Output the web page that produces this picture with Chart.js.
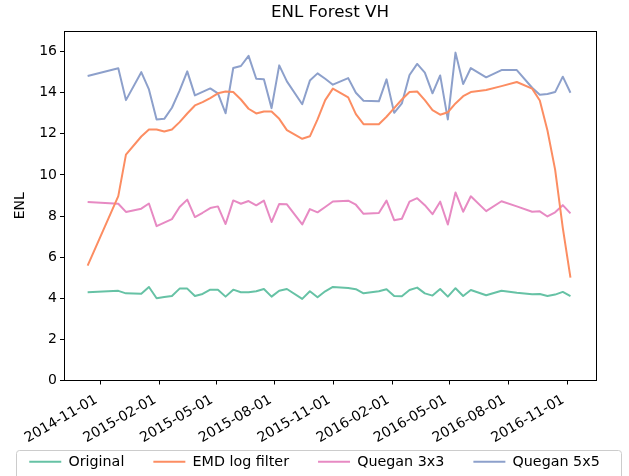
<!DOCTYPE html>
<html>
<head>
<meta charset="utf-8">
<script src="https://cdn.jsdelivr.net/npm/chart.js@4.4.1/dist/chart.umd.min.js"></script>
<style>
  body { margin: 0; background: #fff; }
</style>
</head>
<body>
<canvas id="enlChart" width="629" height="476"></canvas>
<script>
// acquisition dates (Sentinel-1, 12/24 day revisit)
const dates = [
    '2014-10-12', '2014-11-29', '2014-12-11', '2015-01-04', '2015-01-16', '2015-01-28',
    '2015-02-09', '2015-02-21', '2015-03-05', '2015-03-17', '2015-03-29', '2015-04-10',
    '2015-04-22', '2015-05-04', '2015-05-16', '2015-05-28', '2015-06-09', '2015-06-21',
    '2015-07-03', '2015-07-15', '2015-07-27', '2015-08-08', '2015-08-20', '2015-09-13',
    '2015-09-25', '2015-10-07', '2015-10-19', '2015-10-31', '2015-11-24', '2015-12-06',
    '2015-12-18', '2016-01-11', '2016-01-23', '2016-02-04', '2016-02-16', '2016-02-28',
    '2016-03-11', '2016-03-23', '2016-04-04', '2016-04-16', '2016-04-28', '2016-05-10',
    '2016-05-22', '2016-06-03', '2016-06-27', '2016-07-21', '2016-08-14', '2016-09-07',
    '2016-09-19', '2016-10-01', '2016-10-13', '2016-10-25', '2016-11-06'
];

const original = [
    4.29, 4.36, 4.24, 4.22, 4.55, 4.00, 4.06, 4.11, 4.47, 4.47, 4.11, 4.21,
    4.42, 4.42, 4.08, 4.42, 4.29, 4.29, 4.34, 4.45, 4.08, 4.37, 4.45, 3.97,
    4.34, 4.05, 4.34, 4.55, 4.50, 4.44, 4.24, 4.34, 4.44, 4.11, 4.10, 4.40,
    4.52, 4.24, 4.13, 4.45, 4.08, 4.49, 4.11, 4.40, 4.15, 4.37, 4.27, 4.20,
    4.21, 4.11, 4.18, 4.31, 4.11
];

const emdLog = [
    5.59, 8.97, 10.99, 11.87, 12.21, 12.21, 12.11, 12.21, 12.57, 12.99, 13.38, 13.54,
    13.74, 13.97, 14.06, 14.03, 13.67, 13.22, 12.99, 13.09, 13.09, 12.73, 12.18, 11.76,
    11.88, 12.70, 13.64, 14.20, 13.77, 12.96, 12.47, 12.47, 12.83, 13.25, 13.67, 14.03,
    14.06, 13.64, 13.15, 12.93, 13.05, 13.48, 13.83, 14.03, 14.13, 14.32, 14.52, 14.20,
    13.62, 12.16, 10.26, 7.43, 5.00
];

const quegan3 = [
    8.68, 8.60, 8.20, 8.36, 8.61, 7.51, 7.68, 7.85, 8.44, 8.80, 7.95, 8.16,
    8.39, 8.47, 7.61, 8.76, 8.60, 8.73, 8.52, 8.75, 7.71, 8.59, 8.57, 7.59,
    8.34, 8.18, 8.44, 8.71, 8.75, 8.55, 8.11, 8.15, 8.75, 7.80, 7.87, 8.70,
    8.87, 8.53, 8.09, 8.70, 7.59, 9.15, 8.21, 8.96, 8.24, 8.72, 8.47, 8.21,
    8.23, 7.98, 8.18, 8.53, 8.13
];

const quegan5 = [
    14.81, 15.19, 13.64, 15.00, 14.16, 12.70, 12.73, 13.27, 14.10, 15.04, 13.87, 14.04,
    14.21, 13.97, 13.00, 15.20, 15.30, 15.79, 14.68, 14.65, 13.25, 15.33, 14.55, 13.44,
    14.59, 14.94, 14.68, 14.39, 14.71, 14.00, 13.61, 13.58, 14.65, 13.02, 13.48, 14.86,
    15.40, 14.98, 13.97, 14.84, 12.70, 15.95, 14.42, 15.20, 14.75, 15.10, 15.10, 14.24,
    13.90, 13.94, 14.03, 14.78, 14.00
];

const xTickLabels = [
    '2014-11-01', '2015-02-01', '2015-05-01', '2015-08-01', '2015-11-01',
    '2016-02-01', '2016-05-01', '2016-08-01', '2016-11-01'
];
const yTicks = [0, 2, 4, 6, 8, 10, 12, 14, 16];
const xStart = '2014-09-05';
const xEnd = '2016-12-16';

const toTime = d => Date.parse(d);
const points = values => values.map((v, i) => ({ x: toTime(dates[i]), y: v }));

Chart.defaults.font.family = "'DejaVu Sans', sans-serif";
Chart.defaults.color = '#000';

function line(label, values, color) {
    return {
        label: label,
        data: points(values),
        borderColor: color,
        backgroundColor: color,
        borderWidth: 2,
        pointRadius: 0,
        tension: 0,
        borderJoinStyle: 'round'
    };
}

// black box around the axes and a light frame around the legend
const frames = {
    id: 'frames',
    afterDraw(chart) {
        const { ctx, chartArea: a, legend } = chart;
        ctx.save();
        ctx.strokeStyle = '#000';
        ctx.lineWidth = 1;
        ctx.strokeRect(Math.round(a.left) + 0.5, Math.round(a.top) + 0.5,
            Math.round(a.right - a.left), Math.round(a.bottom - a.top));
        const hb = legend.legendHitBoxes;
        if (hb && hb.length) {
            const last = hb[hb.length - 1];
            const l = hb[0].left - 13, r = last.left + last.width + 22;
            const t = hb[0].top - 5, b = hb[0].top + 25;
            ctx.strokeStyle = '#cccccc';
            ctx.beginPath();
            ctx.roundRect(Math.round(l) + 0.5, Math.round(t) + 0.5, Math.round(r - l), Math.round(b - t), 3);
            ctx.stroke();
        }
        ctx.restore();
    }
};

const ctx = document.getElementById('enlChart');
const enlChart = new Chart(ctx, {
    type: 'line',
    data: {
        datasets: [
            line('Original', original, '#66c2a5'),
            line('EMD log filter', emdLog, '#fc8d62'),
            line('Quegan 3x3', quegan3, '#e78ac3'),
            line('Quegan 5x5', quegan5, '#8da0cb')
        ]
    },
    plugins: [frames],
    options: {
        responsive: false,
        animation: false,
        layout: { padding: { left: 0, right: 0, top: 0, bottom: -3 } },
        plugins: {
            title: {
                display: true,
                text: 'ENL Forest VH',
                fullSize: false,
                font: { size: 16.7, weight: 'normal' },
                padding: { top: 3, bottom: 8 }
            },
            legend: {
                position: 'bottom',
                labels: {
                    usePointStyle: true,
                    pointStyle: 'line',
                    pointStyleWidth: 32,
                    padding: 29,
                    font: { size: 14.3 }
                }
            },
            tooltip: { enabled: false }
        },
        scales: {
            x: {
                type: 'linear',
                min: toTime(xStart),
                max: toTime(xEnd),
                afterBuildTicks: s => { s.ticks = xTickLabels.map(d => ({ value: toTime(d) })); },
                afterFit: s => {
                    s.height = 45.2;
                    // the rotated labels run down past the axis box, so don't clip them
                    s._computeLabelArea = () => undefined;
                },
                grid: { drawOnChartArea: false, color: '#000', tickLength: 4 },
                border: { display: false },
                ticks: {
                    autoSkip: false,
                    minRotation: 30,
                    maxRotation: 30,
                    padding: 7,
                    labelOffset: -4,
                    font: { size: 14 },
                    callback: (v, i) => xTickLabels[i]
                }
            },
            y: {
                min: 0,
                max: 17,
                afterBuildTicks: s => { s.ticks = yTicks.map(v => ({ value: v })); },
                afterFit: s => { s.width = 64; },
                grid: { drawOnChartArea: false, color: '#000', tickLength: 4 },
                border: { display: false },
                title: { display: true, text: 'ENL', font: { size: 14 }, padding: { top: 12, bottom: 4 } },
                ticks: { padding: 3, font: { size: 14 } }
            },
            // empty right-hand axis, only keeps the plot's right margin
            yRight: {
                position: 'right',
                grid: { display: false },
                border: { display: false },
                ticks: { display: false },
                afterFit: s => { s.width = 33; }
            }
        }
    }
});
</script>
</body>
</html>
